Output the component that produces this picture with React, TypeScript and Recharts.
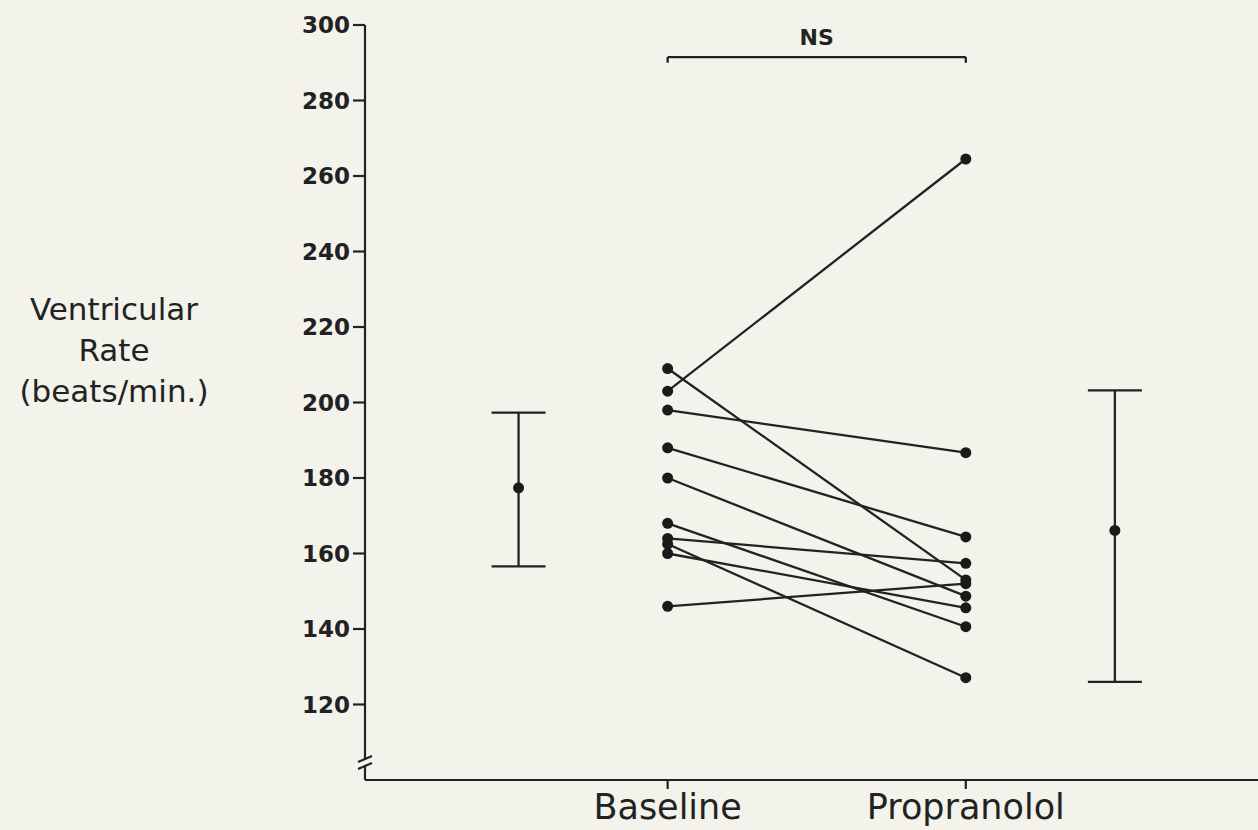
import React from "react"
import {
  ComposedChart,
  Line,
  Scatter,
  ErrorBar,
  XAxis,
  YAxis,
  ReferenceLine,
  ReferenceDot,
} from "recharts"

// individual patients, baseline -> propranolol (beats/min)
const baselineRates = [209, 203, 198, 188, 180, 168, 164, 162.5, 160, 146]
const propranololRates = [153, 264.5, 186.7, 164.4, 148.7, 140.6, 157.4, 127.1, 145.6, 152]

// group mean with the bar ends (lower, upper distance from the mean)
const meanRates = [177.4, 166.1]
const meanErrLow = [20.8, 40.1]
const meanErrHigh = [19.9, 37.1]

const groupLabels = ["Baseline", "Propranolol"]
const groupX = [1, 3]
const meanX = [0, 4]
const yTicks = [120, 140, 160, 180, 200, 220, 240, 260, 280, 300]

const X_MIN = -1.03
const X_MAX = 4.96
const INK = "#222"
const BG = "#f3f3ec"
const FONT = "'DejaVu Sans', sans-serif"

const subjects = baselineRates.map((b, i) => [
  { x: groupX[0], rate: b },
  { x: groupX[1], rate: propranololRates[i] },
])

const meanData = meanRates.map((m, i) => ({
  x: meanX[i],
  rate: m,
  err: [meanErrLow[i], meanErrHigh[i]],
}))

const AxisBreak = (props: any) => {
  const { cx, cy } = props
  return (
    <g>
      <rect x={cx - 4} y={cy - 3} width={8} height={6} fill={BG} />
      <line x1={cx - 7} y1={cy - 1} x2={cx + 7} y2={cy - 7} stroke={INK} strokeWidth={2.2} />
      <line x1={cx - 7} y1={cy + 6} x2={cx + 7} y2={cy} stroke={INK} strokeWidth={2.2} />
    </g>
  )
}

export default function App() {
  return (
    <div
      style={{
        position: "absolute",
        left: 0,
        top: 0,
        width: 1258,
        height: 830,
        background: BG,
        fontFamily: FONT,
        color: INK,
      }}
    >
      <div
        style={{
          position: "absolute",
          left: 0,
          top: 289,
          width: 228,
          textAlign: "center",
          fontSize: 31,
          lineHeight: "41px",
        }}
      >
        <div>Ventricular</div>
        <div>Rate</div>
        <div>(beats/min.)</div>
      </div>
      <ComposedChart width={1258} height={830} margin={{ top: 25, right: 0, bottom: 0, left: 0 }}>
        <XAxis
          dataKey="x"
          type="number"
          domain={[X_MIN, X_MAX]}
          ticks={groupX}
          tickFormatter={(v) => groupLabels[groupX.indexOf(v)] ?? ""}
          allowDataOverflow
          height={50}
          stroke={INK}
          strokeWidth={2.2}
          tickSize={9}
          tickMargin={5}
          tick={{ fill: INK, fontSize: 35, fontFamily: FONT }}
        />
        <YAxis
          dataKey="rate"
          type="number"
          domain={[100, 300]}
          ticks={yTicks}
          allowDataOverflow
          width={365}
          stroke={INK}
          strokeWidth={2.2}
          tickSize={12}
          tickMargin={3}
          tick={{ fill: INK, fontSize: 23, fontWeight: "bold", fontFamily: FONT }}
        />
        {subjects.map((d, i) => (
          <Line
            key={i}
            data={d}
            dataKey="rate"
            stroke={INK}
            strokeWidth={2.3}
            dot={{ r: 5.5, fill: "#1a1a1a", stroke: "none" }}
            activeDot={false}
            isAnimationActive={false}
          />
        ))}
        <Scatter
          data={meanData}
          dataKey="rate"
          fill="#1a1a1a"
          shape={(p: any) => <circle cx={p.cx} cy={p.cy} r={5.5} fill="#1a1a1a" />}
          isAnimationActive={false}
        >
          <ErrorBar dataKey="err" direction="y" width={27} stroke={INK} strokeWidth={2.3} />
        </Scatter>
        <ReferenceLine
          segment={[
            { x: groupX[0], y: 291.5 },
            { x: groupX[1], y: 291.5 },
          ]}
          stroke={INK}
          strokeWidth={2.3}
          label={{ value: "NS", position: "top", offset: 12, fill: INK, fontSize: 22, fontWeight: "bold", fontFamily: FONT }}
        />
        <ReferenceLine
          segment={[
            { x: groupX[0], y: 291.5 },
            { x: groupX[0], y: 290 },
          ]}
          stroke={INK}
          strokeWidth={2.3}
        />
        <ReferenceLine
          segment={[
            { x: groupX[1], y: 291.5 },
            { x: groupX[1], y: 290 },
          ]}
          stroke={INK}
          strokeWidth={2.3}
        />
        <ReferenceDot x={X_MIN} y={104.5} ifOverflow="visible" shape={AxisBreak} />
      </ComposedChart>
    </div>
  )
}
